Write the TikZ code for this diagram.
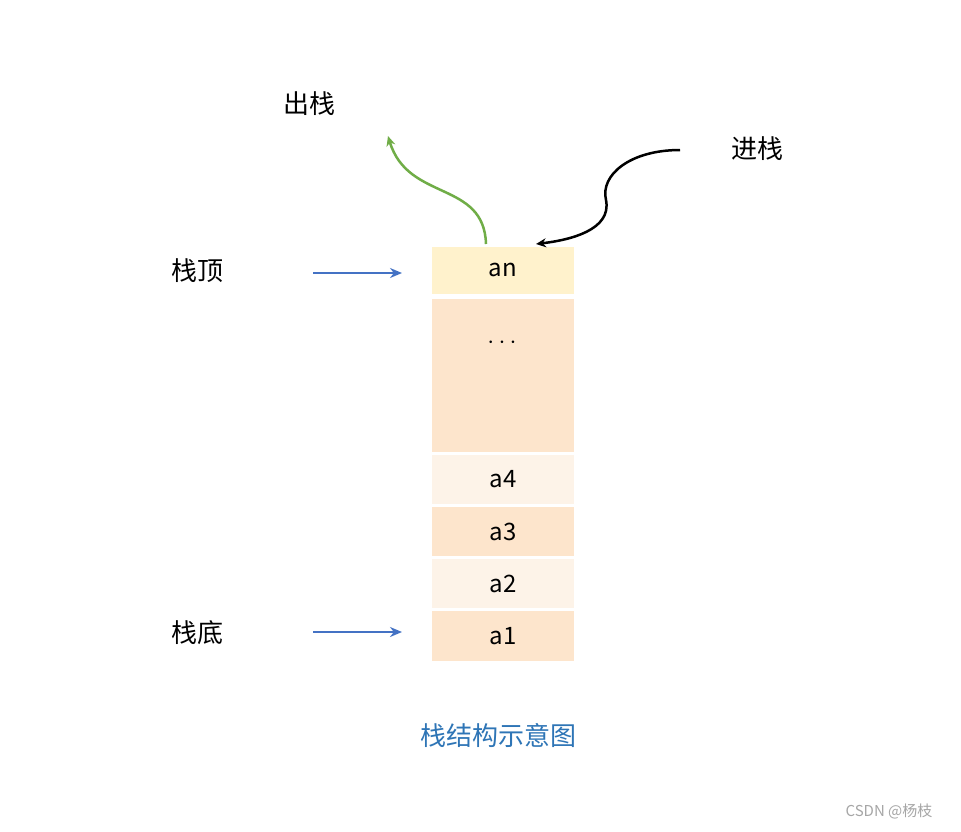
\documentclass[tikz,border=0pt]{standalone}
\usepackage{fontspec}
\setmainfont{Noto Sans CJK SC}
\usetikzlibrary{arrows.meta}
\definecolor{yel}{HTML}{FFF2CC}
\definecolor{peach}{HTML}{FDE5CC}
\definecolor{light}{HTML}{FDF3E8}
\definecolor{blu}{HTML}{4472C4}
\definecolor{grn}{HTML}{70AD47}
\definecolor{cap}{HTML}{2E75B6}
\tikzset{
 cell/.style={minimum width=142pt,inner sep=0pt,font=\fontsize{24}{28}\selectfont},
 lbl/.style={font=\fontsize{26}{30}\selectfont},
 ptr/.style={blu,line width=2.5pt,-{Stealth[length=12pt,width=10pt]}},
}
\begin{document}
\begin{tikzpicture}[x=1pt,y=-1pt]
\useasboundingbox (0,0) rectangle (961,831);
\fill[white] (0,0) rectangle (961,831);
\node[cell,fill=yel,minimum height=47pt] (an) at (503,270) {an};
\node[cell,fill=peach,minimum height=153pt] (dots) at (503,375.5) {};
\node[font=\fontsize{36}{36}\selectfont\bfseries] (d) at (502,343) {$\cdots$};
\node[cell,fill=light,minimum height=49pt] (a4) at (503,479.5) {a4};
\node[cell,fill=peach,minimum height=49pt] (a3) at (503,531.5) {a3};
\node[cell,fill=light,minimum height=49pt] (a2) at (503,583.5) {a2};
\node[cell,fill=peach,minimum height=50pt] (a1) at (503,636) {a1};
\node[lbl] (top) at (197,271) {栈顶};
\node[lbl] (bot) at (197,633) {栈底};
\node[lbl] (out) at (309,104) {出栈};
\node[lbl] (in) at (757,149) {进栈};
\coordinate (t1) at (313,273); \coordinate (t2) at (402,273);
\coordinate (b1) at (313,632); \coordinate (b2) at (402,632);
\draw[ptr] (t1) -- (t2);
\draw[ptr] (b1) -- (b2);
\coordinate (gs) at (486,244); \coordinate (ge) at (388,136);
\draw[grn,line width=2.5pt,-{Stealth[length=10pt,width=9pt]}] (gs) .. controls (484,180) and (408,202) .. (ge);
\coordinate (ks) at (680,150); \coordinate (ke) at (536,244);
\draw[black,line width=2.5pt,-{Stealth[length=10pt,width=9pt]}] (ks) .. controls (630,150) and (600,175) .. (606,200) .. controls (612,230) and (570,240) .. (ke);
\node[font=\fontsize{26}{30}\selectfont,text=cap] (title) at (498,736) {栈结构示意图};
\node[font=\fontsize{15}{18}\selectfont,text=gray!70] (wm) at (889,811) {CSDN @杨枝};
\end{tikzpicture}
\end{document}
